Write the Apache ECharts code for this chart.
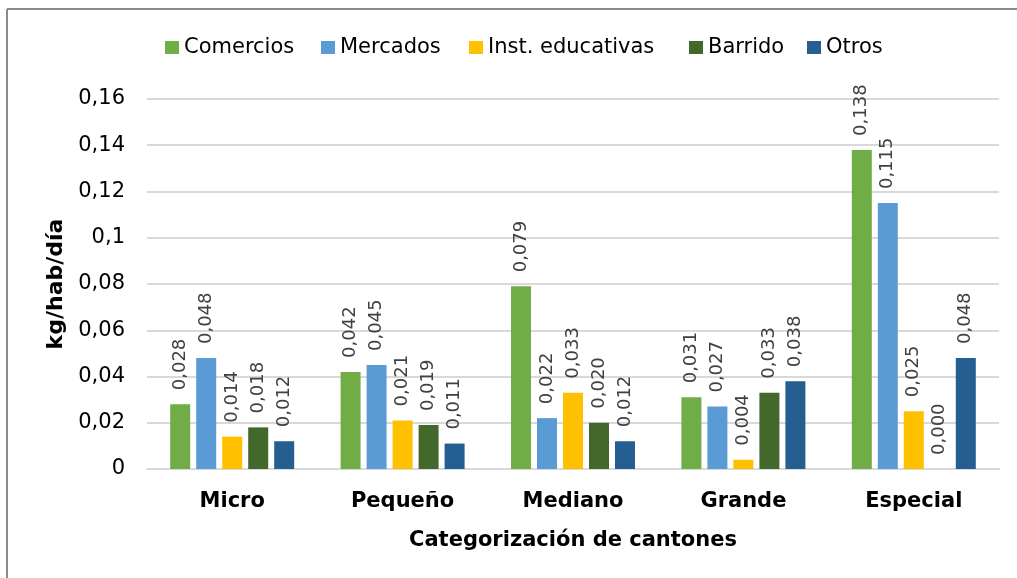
<!DOCTYPE html>
<html>
<head>
<meta charset="utf-8">
<script src="https://cdn.jsdelivr.net/npm/echarts@6/dist/echarts.min.js"></script>
<style>
  html, body { margin: 0; padding: 0; background: #fff; }
  #chart { width: 1017px; height: 578px; }
</style>
</head>
<body>
<div id="chart"></div>
<script>
// Categorías y valores (kg/hab/día)
const categories = ['Micro', 'Pequeño', 'Mediano', 'Grande', 'Especial'];
const seriesNames = ['Comercios', 'Mercados', 'Inst. educativas', 'Barrido', 'Otros'];
const comercios = [0.028, 0.042, 0.079, 0.031, 0.138];
const mercados = [0.048, 0.045, 0.022, 0.027, 0.115];
const educativas = [0.014, 0.021, 0.033, 0.004, 0.025];
const barrido = [0.018, 0.019, 0.020, 0.033, 0.000];
const otros = [0.012, 0.011, 0.012, 0.038, 0.048];
const colors = ['#70AD47', '#5B9BD5', '#FFC000', '#43682B', '#255E91'];

const chart = echarts.init(document.getElementById('chart'));
const font = 'Tahoma, "DejaVu Sans", sans-serif';
const fmt = v => String(v).replace('.', ',');

const values = [comercios, mercados, educativas, barrido, otros];
const series = values.map((data, i) => ({
    name: seriesNames[i],
    type: 'bar',
    data: data,
    barWidth: 20,
    barGap: '30%',
    itemStyle: { color: colors[i] },
    label: {
        show: true,
        position: 'top',
        rotate: 90,
        align: 'left',
        verticalAlign: 'middle',
        distance: 14,
        color: '#404040',
        fontSize: 18,
        fontFamily: font,
        formatter: p => p.value.toFixed(3).replace('.', ',')
    }
}));

// una leyenda por serie, colocadas como en el original
const legendLeft = [165, 321, 469, 689, 807];
const legends = seriesNames.map((n, i) => ({
    top: 37,
    left: legendLeft[i],
    padding: 0,
    itemWidth: 14,
    itemHeight: 13,
    icon: 'rect',
    textStyle: {
        fontSize: 21,
        color: '#000',
        fontFamily: font
    },
    data: [n]
}));

chart.setOption({
    backgroundColor: '#fff',
    animation: false,
    color: colors,
    legend: legends,
    grid: { left: 147, right: 18, top: 99, bottom: 109 },
    xAxis: {
        type: 'category',
        data: categories,
        name: 'Categorización de cantones',
        nameLocation: 'middle',
        nameGap: 61,
        nameTextStyle: { fontSize: 21, fontWeight: 'bold', color: '#000', fontFamily: font },
        axisLine: { lineStyle: { color: '#d9d9d9', width: 2 } },
        axisTick: { show: false },
        axisLabel: { margin: 22, fontSize: 21, fontWeight: 'bold', color: '#000', fontFamily: font }
    },
    yAxis: {
        type: 'value',
        min: 0,
        max: 0.16,
        interval: 0.02,
        name: 'kg/hab/día',
        nameLocation: 'middle',
        nameGap: 79,
        nameTextStyle: { fontSize: 22, fontWeight: 'bold', color: '#000', fontFamily: font },
        axisLine: { show: false },
        axisTick: { show: false },
        splitLine: { lineStyle: { color: '#d9d9d9', width: 2 } },
        axisLabel: {
            margin: 22,
            fontSize: 21,
            color: '#000',
            fontFamily: font,
            formatter: v => fmt(+v.toFixed(2))
        }
    },
    graphic: [
        { type: 'line', shape: { x1: 7, y1: 9, x2: 1017, y2: 9 }, style: { stroke: '#8c8c8c', lineWidth: 2 } },
        { type: 'line', shape: { x1: 7, y1: 9, x2: 7, y2: 578 }, style: { stroke: '#8c8c8c', lineWidth: 2 } }
    ],
    series: series
});
</script>
</body>
</html>
